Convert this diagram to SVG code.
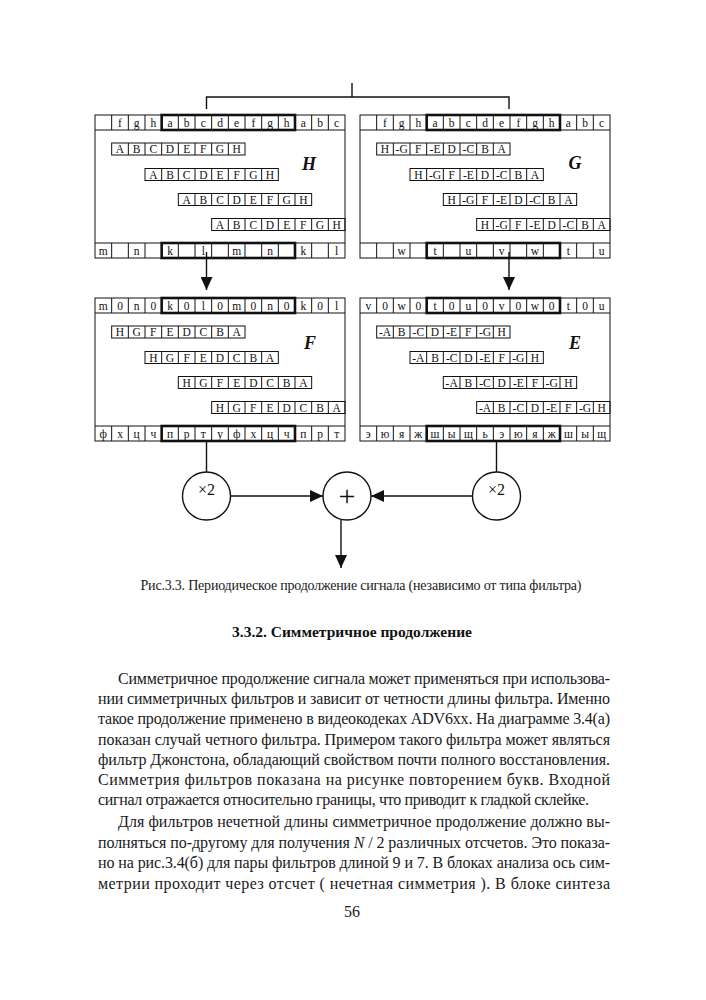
<svg xmlns="http://www.w3.org/2000/svg" xmlns:xlink="http://www.w3.org/1999/xlink" width="706" height="1000" viewBox="0 0 706 1000">
<style>
.fr{fill:none;stroke:#111;stroke-width:1}
.tk{fill:none;stroke:#111;stroke-width:2.6}
.c{font-family:"Liberation Serif","DejaVu Serif",serif;font-size:11.5px;fill:#111;text-anchor:middle}
.lb{font-family:"Liberation Serif","DejaVu Serif",serif;font-size:18px;font-weight:bold;font-style:italic;fill:#111;text-anchor:middle}
.ln{fill:none;stroke:#111;stroke-width:1.4}
.b{font-family:"Liberation Serif","DejaVu Serif",serif;font-size:16px;fill:#1a1a1a}
.cap{font-family:"Liberation Serif","DejaVu Serif",serif;font-size:14px;fill:#1a1a1a;text-anchor:middle}
.hd{font-family:"Liberation Serif","DejaVu Serif",serif;font-size:15.5px;font-weight:bold;fill:#111;text-anchor:middle}
.cx{font-family:"Liberation Serif","DejaVu Serif",serif;font-size:16px;fill:#111;text-anchor:middle}
.pl{font-family:"Liberation Serif","DejaVu Serif",serif;font-size:30px;fill:#111;text-anchor:middle}
</style>
<defs>
<g id="r8"><rect class="fr" width="133.33" height="12"/><path class="fr" d="M16.67 0v12M33.33 0v12M50 0v12M66.67 0v12M83.33 0v12M100 0v12M116.67 0v12"/></g>
<g id="r15"><path class="fr" d="M16.67 0v15M33.33 0v15M50 0v15M66.67 0v15M83.33 0v15M100 0v15M116.67 0v15M133.33 0v15M150 0v15M166.67 0v15M183.33 0v15M200 0v15M216.67 0v15M233.33 0v15"/><rect class="tk" x="66.67" y="0" width="133.33" height="15"/></g>
<g id="frame"><rect class="fr" x="0" y="0" width="250" height="143"/><path class="fr" d="M0 15H250M0 128H250"/><use xlink:href="#r15"/><use xlink:href="#r15" y="128"/></g>
<marker id="ah" markerUnits="userSpaceOnUse" markerWidth="13" markerHeight="12" viewBox="0 0 13 12" refX="13" refY="6" orient="auto"><path d="M0 0L13 6L0 12z" fill="#111"/></marker>
</defs>
<rect width="706" height="1000" fill="#fff"/>

<g id="nodeH" transform="translate(95,115)">
<use xlink:href="#frame"/>
<text class="c" y="11.8" x="25 41.67 58.33 75 91.67 108.33 125 141.67 158.33 175 191.67 208.33 225 241.67">fghabcdefghabc</text>
<text class="c" y="139.8" x="8.33 41.67 75 108.33 141.67 175 208.33 241.67">mnklmnkl</text>
<g transform="translate(16.67,28)"><use xlink:href="#r8"/><text class="c" y="10.2" x="8.33 25 41.67 58.33 75 91.67 108.33 125">ABCDEFGH</text></g>
<g transform="translate(50,53.5)"><use xlink:href="#r8"/><text class="c" y="10.2" x="8.33 25 41.67 58.33 75 91.67 108.33 125">ABCDEFGH</text></g>
<g transform="translate(83.33,78.5)"><use xlink:href="#r8"/><text class="c" y="10.2" x="8.33 25 41.67 58.33 75 91.67 108.33 125">ABCDEFGH</text></g>
<g transform="translate(116.67,103.5)"><use xlink:href="#r8"/><text class="c" y="10.2" x="8.33 25 41.67 58.33 75 91.67 108.33 125">ABCDEFGH</text></g>
<text class="lb" x="214" y="55">H</text>
</g>

<g id="nodeG" transform="translate(360,115)">
<use xlink:href="#frame"/>
<text class="c" y="11.8" x="25 41.67 58.33 75 91.67 108.33 125 141.67 158.33 175 191.67 208.33 225 241.67">fghabcdefghabc</text>
<text class="c" y="139.8" x="41.67 75 108.33 141.67 175 208.33 241.67">wtuvwtu</text>
<g transform="translate(16.67,28)"><use xlink:href="#r8"/><text class="c" y="10.2"><tspan x="8.33">H</tspan><tspan x="25">-G</tspan><tspan x="41.67">F</tspan><tspan x="58.33">-E</tspan><tspan x="75">D</tspan><tspan x="91.67">-C</tspan><tspan x="108.33">B</tspan><tspan x="125">A</tspan></text></g>
<g transform="translate(50,53.5)"><use xlink:href="#r8"/><text class="c" y="10.2"><tspan x="8.33">H</tspan><tspan x="25">-G</tspan><tspan x="41.67">F</tspan><tspan x="58.33">-E</tspan><tspan x="75">D</tspan><tspan x="91.67">-C</tspan><tspan x="108.33">B</tspan><tspan x="125">A</tspan></text></g>
<g transform="translate(83.33,78.5)"><use xlink:href="#r8"/><text class="c" y="10.2"><tspan x="8.33">H</tspan><tspan x="25">-G</tspan><tspan x="41.67">F</tspan><tspan x="58.33">-E</tspan><tspan x="75">D</tspan><tspan x="91.67">-C</tspan><tspan x="108.33">B</tspan><tspan x="125">A</tspan></text></g>
<g transform="translate(116.67,103.5)"><use xlink:href="#r8"/><text class="c" y="10.2"><tspan x="8.33">H</tspan><tspan x="25">-G</tspan><tspan x="41.67">F</tspan><tspan x="58.33">-E</tspan><tspan x="75">D</tspan><tspan x="91.67">-C</tspan><tspan x="108.33">B</tspan><tspan x="125">A</tspan></text></g>
<text class="lb" x="215" y="54">G</text>
</g>

<g id="nodeF" transform="translate(95,298)">
<use xlink:href="#frame"/>
<text class="c" y="11.8" x="8.33 25 41.67 58.33 75 91.67 108.33 125 141.67 158.33 175 191.67 208.33 225 241.67">m0n0k0l0m0n0k0l</text>
<text class="c" y="139.8" x="8.33 25 41.67 58.33 75 91.67 108.33 125 141.67 158.33 175 191.67 208.33 225 241.67">фхцчпртуфхцчпрт</text>
<g transform="translate(16.67,28)"><use xlink:href="#r8"/><text class="c" y="10.2" x="8.33 25 41.67 58.33 75 91.67 108.33 125">HGFEDCBA</text></g>
<g transform="translate(50,53.5)"><use xlink:href="#r8"/><text class="c" y="10.2" x="8.33 25 41.67 58.33 75 91.67 108.33 125">HGFEDCBA</text></g>
<g transform="translate(83.33,78.5)"><use xlink:href="#r8"/><text class="c" y="10.2" x="8.33 25 41.67 58.33 75 91.67 108.33 125">HGFEDCBA</text></g>
<g transform="translate(116.67,103.5)"><use xlink:href="#r8"/><text class="c" y="10.2" x="8.33 25 41.67 58.33 75 91.67 108.33 125">HGFEDCBA</text></g>
<text class="lb" x="215" y="51">F</text>
</g>

<g id="nodeE" transform="translate(360,298)">
<use xlink:href="#frame"/>
<text class="c" y="11.8" x="8.33 25 41.67 58.33 75 91.67 108.33 125 141.67 158.33 175 191.67 208.33 225 241.67">v0w0t0u0v0w0t0u</text>
<text class="c" y="139.8" x="8.33 25 41.67 58.33 75 91.67 108.33 125 141.67 158.33 175 191.67 208.33 225 241.67">эюяжшыщьэюяжшыщ</text>
<g transform="translate(16.67,28)"><use xlink:href="#r8"/><text class="c" y="10.2"><tspan x="8.33">-A</tspan><tspan x="25">B</tspan><tspan x="41.67">-C</tspan><tspan x="58.33">D</tspan><tspan x="75">-E</tspan><tspan x="91.67">F</tspan><tspan x="108.33">-G</tspan><tspan x="125">H</tspan></text></g>
<g transform="translate(50,53.5)"><use xlink:href="#r8"/><text class="c" y="10.2"><tspan x="8.33">-A</tspan><tspan x="25">B</tspan><tspan x="41.67">-C</tspan><tspan x="58.33">D</tspan><tspan x="75">-E</tspan><tspan x="91.67">F</tspan><tspan x="108.33">-G</tspan><tspan x="125">H</tspan></text></g>
<g transform="translate(83.33,78.5)"><use xlink:href="#r8"/><text class="c" y="10.2"><tspan x="8.33">-A</tspan><tspan x="25">B</tspan><tspan x="41.67">-C</tspan><tspan x="58.33">D</tspan><tspan x="75">-E</tspan><tspan x="91.67">F</tspan><tspan x="108.33">-G</tspan><tspan x="125">H</tspan></text></g>
<g transform="translate(116.67,103.5)"><use xlink:href="#r8"/><text class="c" y="10.2"><tspan x="8.33">-A</tspan><tspan x="25">B</tspan><tspan x="41.67">-C</tspan><tspan x="58.33">D</tspan><tspan x="75">-E</tspan><tspan x="91.67">F</tspan><tspan x="108.33">-G</tspan><tspan x="125">H</tspan></text></g>
<text class="lb" x="215" y="51">E</text>
</g>

<g id="mulL"><circle class="ln" cx="206.5" cy="496" r="24"/><text class="cx" x="206.5" y="495">×2</text></g>
<g id="sum"><circle class="ln" cx="347" cy="496" r="24"/><text class="pl" x="347" y="506">+</text></g>
<g id="mulR"><circle class="ln" cx="496.5" cy="496" r="24"/><text class="cx" x="496.5" y="495">×2</text></g>

<g id="connectors">
<path class="ln" d="M206.5 109V97H509V109M352 83V97"/>
<path class="ln" d="M206.5 252V290" marker-end="url(#ah)"/>
<path class="ln" d="M509 252V290" marker-end="url(#ah)"/>
<path class="ln" d="M206.5 441V472"/>
<path class="ln" d="M496.5 441V472"/>
<path class="ln" d="M230.5 496H323" marker-end="url(#ah)"/>
<path class="ln" d="M472.5 496H371" marker-end="url(#ah)"/>
<path class="ln" d="M341 519.5V568" marker-end="url(#ah)"/>
</g>

<text class="cap" x="361" y="590" textLength="441" lengthAdjust="spacing">Рис.3.3. Периодическое продолжение сигнала (независимо от типа фильтра)</text>
<text class="hd" x="352" y="637">3.3.2.  Симметричное продолжение</text>

<g id="body">
<text class="b" x="118" y="684" textLength="492" lengthAdjust="spacing">Симметричное продолжение сигнала может применяться при использова-</text>
<text class="b" x="98" y="704" textLength="512" lengthAdjust="spacing">нии симметричных фильтров и зависит от четности длины фильтра. Именно</text>
<text class="b" x="98" y="724" textLength="512" lengthAdjust="spacing">такое продолжение применено в видеокодеках ADV6xx. На диаграмме 3.4(а)</text>
<text class="b" x="98" y="745" textLength="512" lengthAdjust="spacing">показан случай четного фильтра. Примером такого фильтра может являться</text>
<text class="b" x="98" y="765" textLength="512" lengthAdjust="spacing">фильтр Джонстона, обладающий свойством почти полного восстановления.</text>
<text class="b" x="98" y="785" textLength="512" lengthAdjust="spacing">Симметрия фильтров показана на рисунке повторением букв. Входной</text>
<text class="b" x="98" y="805" textLength="491" lengthAdjust="spacing">сигнал отражается относительно границы, что приводит к гладкой склейке.</text>
<text class="b" x="118" y="827" textLength="492" lengthAdjust="spacing">Для фильтров нечетной длины симметричное продолжение должно вы-</text>
<text class="b" x="98" y="848" textLength="512" lengthAdjust="spacing">полняться по-другому для получения  <tspan font-style="italic">N</tspan> / 2  различных отсчетов. Это показа-</text>
<text class="b" x="98" y="868" textLength="512" lengthAdjust="spacing">но на рис.3.4(б) для пары фильтров длиной 9 и 7. В блоках анализа ось сим-</text>
<text class="b" x="98" y="889" textLength="512" lengthAdjust="spacing">метрии  проходит через отсчет ( нечетная симметрия ). В блоке синтеза</text>
<text class="b" x="352" y="917" text-anchor="middle">56</text>
</g>
</svg>
